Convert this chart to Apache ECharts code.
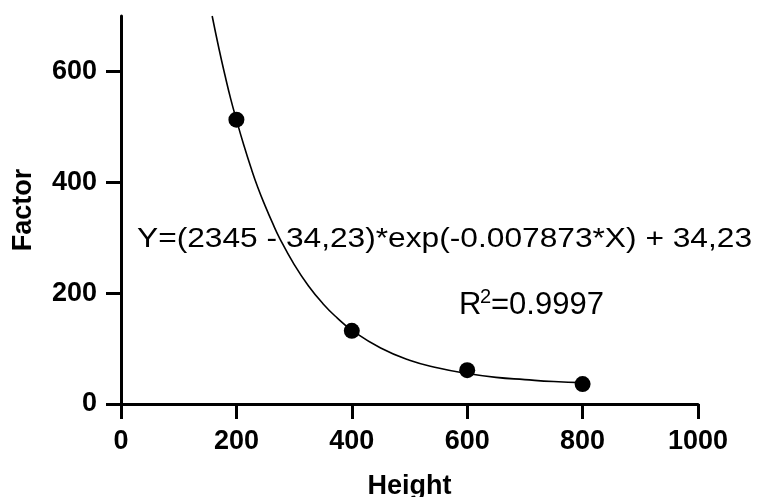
<!DOCTYPE html>
<html>
<head>
<meta charset="utf-8">
<script src="https://cdn.jsdelivr.net/npm/echarts@6/dist/echarts.min.js"></script>
<style>html,body{margin:0;padding:0;background:#fff;}#c{width:761px;height:497px;}</style>
</head>
<body>
<div id="c"></div>
<script>
// Measured data points (Height, Factor)
const heights = [200, 400, 600, 800];
const factors = [513, 132, 61, 36];
// Fitted curve (Height, Factor)
const curveX = [158, 170, 180, 190, 200, 212, 225, 237, 250, 262, 275, 300, 325, 350, 375, 400, 450, 500, 550, 600, 650, 700, 750, 800];
const curveY = [700, 640, 594, 551, 513, 470, 427, 391, 357, 328, 299, 252, 213, 181, 155, 133, 101, 79, 65, 55, 48, 44, 40.5, 38.5];
// Axis ticks
const xTicks = [0, 200, 400, 600, 800, 1000];
const yTicks = [0, 200, 400, 600];
const equationText = 'Y=(2345 - 34,23)*exp(-0.007873*X) + 34,23';
const r2Base = 'R';
const r2Sup = '2';
const r2Value = '=0.9997';

const chart = echarts.init(document.getElementById('c'), null, {renderer: 'canvas'});
const font = '"Liberation Sans", Arial, sans-serif';
const axisCommon = {
  axisLine: {show: true, lineStyle: {color: '#000', width: 3}},
  axisTick: {show: true, length: 15, lineStyle: {color: '#000', width: 3}},
  splitLine: {show: false},
  nameTextStyle: {color: '#000', fontFamily: font, fontWeight: 'bold', fontSize: 27}
};
chart.setOption({
  animation: false,
  backgroundColor: '#fff',
  grid: {left: 121, right: 63, top: 16, bottom: 93, containLabel: false, outerBoundsMode: 'none'},
  xAxis: Object.assign({}, axisCommon, {
    type: 'value', min: 0, max: 1000, interval: 200,
    name: 'Height', nameLocation: 'middle', nameGap: 69,
    axisTick: Object.assign({}, axisCommon.axisTick, {customValues: xTicks}),
    axisLabel: {color: '#000', fontFamily: font, fontWeight: 'bold', fontSize: 27, margin: 24, customValues: xTicks,
      formatter: v => String(v)}
  }),
  yAxis: Object.assign({}, axisCommon, {
    type: 'value', min: 0, max: 700, interval: 200,
    name: 'Factor', nameLocation: 'middle', nameGap: 84,
    axisTick: Object.assign({}, axisCommon.axisTick, {customValues: yTicks}),
    axisLabel: {color: '#000', fontFamily: font, fontWeight: 'bold', fontSize: 27, margin: 24, customValues: yTicks,
      formatter: v => String(v)}
  }),
  series: [
    {
      type: 'line', data: curveX.map((x, i) => [x, curveY[i]]),
      smooth: true, showSymbol: false, symbol: 'none',
      lineStyle: {color: '#000', width: 1.6}, z: 2
    },
    {
      type: 'scatter', data: heights.map((x, i) => [x, factors[i]]),
      symbol: 'circle', symbolSize: 16,
      itemStyle: {color: '#000', opacity: 1}, z: 3
    }
  ],
  graphic: [
    {type: 'text', x: 137, y: 240, scaleX: 1.174, scaleY: 1,
     style: {text: equationText, fontFamily: font, fontSize: 27, fill: '#000', textAlign: 'left', textVerticalAlign: 'middle'}},
    {type: 'text', x: 459, y: 305,
     style: {text: r2Base, fontFamily: font, fontSize: 31, fill: '#000', textAlign: 'left', textVerticalAlign: 'middle'}},
    {type: 'text', x: 480, y: 297,
     style: {text: r2Sup, fontFamily: font, fontSize: 20, fill: '#000', textAlign: 'left', textVerticalAlign: 'middle'}},
    {type: 'text', x: 491, y: 305,
     style: {text: r2Value, fontFamily: font, fontSize: 31, fill: '#000', textAlign: 'left', textVerticalAlign: 'middle'}}
  ]
});
</script>
</body>
</html>
